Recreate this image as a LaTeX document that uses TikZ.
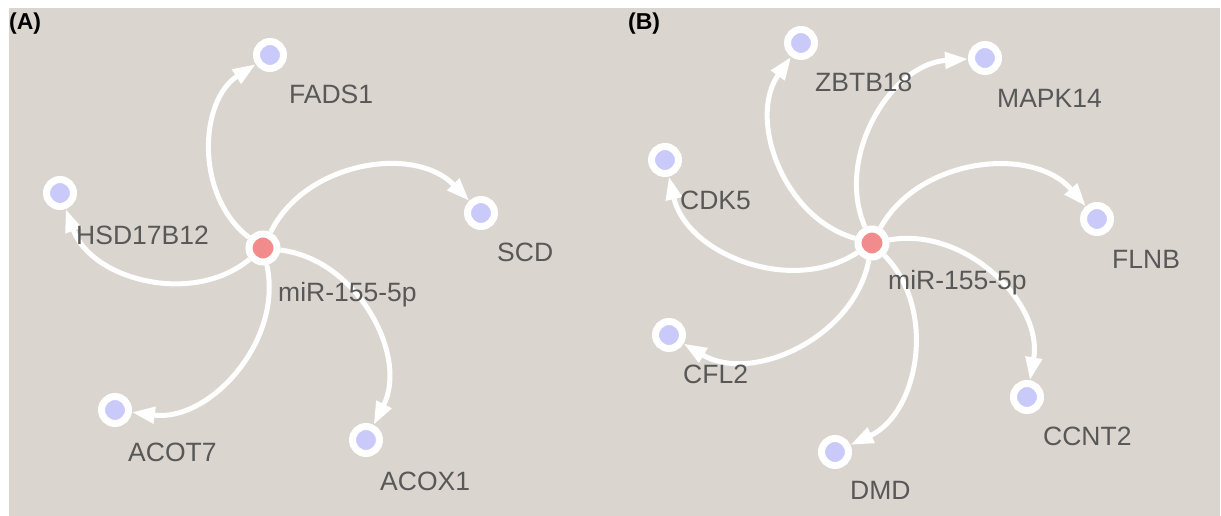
\documentclass[tikz,border=0pt]{standalone}
\usepackage{fontspec}
\setmainfont{Liberation Sans}
\usetikzlibrary{arrows.meta}
\definecolor{panelbg}{HTML}{DBD5CF}
\definecolor{genefill}{HTML}{CACAFA}
\definecolor{mirfill}{HTML}{F28C8C}
\definecolor{labelgray}{HTML}{585858}
\tikzset{
  gene/.style={circle, draw=white, line width=7pt, fill=genefill, minimum size=27pt, inner sep=0pt},
  mirna/.style={circle, draw=white, line width=7pt, fill=mirfill, minimum size=28pt, inner sep=0pt},
  lbl/.style={anchor=west, inner sep=0pt, text=labelgray, font=\fontsize{26.5}{26.5}\selectfont},
  panel/.style={anchor=west, inner sep=0pt, font=\fontsize{23}{23}\selectfont\bfseries},
  link/.style={draw=white, line width=5pt, bend left=55, -{Triangle[length=23pt,width=16pt]}}
}
\begin{document}
\begin{tikzpicture}[x=1pt,y=1pt]
\useasboundingbox (0,0) rectangle (1221,516);
\fill[panelbg] (9,0) rectangle (1220,508);

% panel labels
\node[panel] (pa) at (9,492) {(A)};
\node[panel] (pb) at (628,492) {(B)};

% ---- panel A: miR-155-5p targets
\node[mirna] (cA) at (263,268) {};
\node[gene] (fads1) at (270,461) {};
\node[gene] (hsd) at (60,323) {};
\node[gene] (scd) at (481,303) {};
\node[gene] (acot7) at (115,106) {};
\node[gene] (acox1) at (366,76) {};

\path[link] (cA) to (fads1);
\path[link] (cA) to (hsd);
\path[link] (cA) to (scd);
\path[link] (cA) to (acot7);
\path[link] (cA) to (acox1);

\node[lbl] (lfads1) at (289,422) {FADS1};
\node[lbl] (lhsd) at (76,281) {HSD17B12};
\node[lbl] (lscd) at (497,264) {SCD};
\node[lbl] (lcA) at (278,221) {miR-155-5p};
\node[lbl] (lacot7) at (128,64) {ACOT7};
\node[lbl] (lacox1) at (380,35) {ACOX1};

% ---- panel B: miR-155-5p targets
\node[mirna] (cB) at (872,273) {};
\node[gene] (zbtb) at (801,473) {};
\node[gene] (mapk) at (985,458) {};
\node[gene] (cdk5) at (665,356) {};
\node[gene] (flnb) at (1097,297) {};
\node[gene] (cfl2) at (669,181) {};
\node[gene] (ccnt2) at (1027,119) {};
\node[gene] (dmd) at (835,64) {};

\path[link] (cB) to (zbtb);
\path[link] (cB) to (mapk);
\path[link] (cB) to (cdk5);
\path[link] (cB) to (flnb);
\path[link] (cB) to (cfl2);
\path[link] (cB) to (ccnt2);
\path[link] (cB) to (dmd);

\node[lbl] (lzbtb) at (815,434) {ZBTB18};
\node[lbl] (lmapk) at (997,418) {MAPK14};
\node[lbl] (lcdk5) at (680,316) {CDK5};
\node[lbl] (lflnb) at (1112,257) {FLNB};
\node[lbl] (lcB) at (888,233) {miR-155-5p};
\node[lbl] (lcfl2) at (683,142) {CFL2};
\node[lbl] (lccnt2) at (1043,80) {CCNT2};
\node[lbl] (ldmd) at (850,26) {DMD};
\end{tikzpicture}
\end{document}
